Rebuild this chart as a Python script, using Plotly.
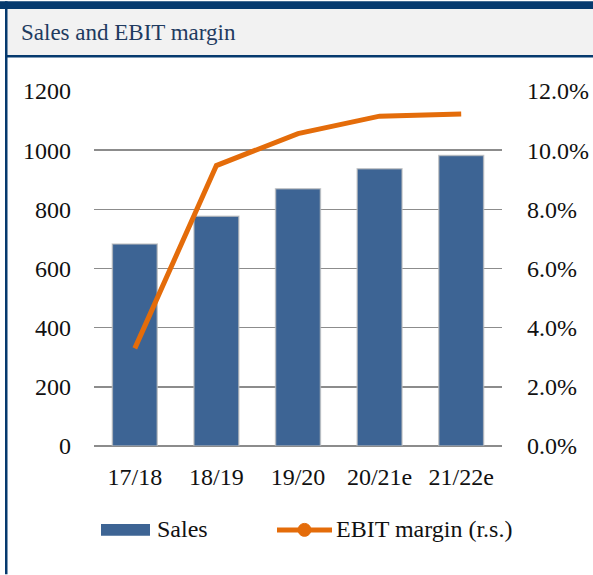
import plotly.graph_objects as go

categories = ["17/18", "18/19", "19/20", "20/21e", "21/22e"]
sales = [683, 777, 870, 937, 982]
ebit_margin = [0.033, 0.0948, 0.1056, 0.1115, 0.1122]
left_ticks = [0, 200, 400, 600, 800, 1000, 1200]
right_ticks = [0.0, 0.02, 0.04, 0.06, 0.08, 0.10, 0.12]
title_text = "Sales and EBIT margin"
series_names = ["Sales", "EBIT margin (r.s.)"]

W, H = 593, 575
L, R, T, B = 94, 502, 91, 446.5
FONT = "Liberation Serif, Times New Roman, serif"
NAVY = "#063a6e"
BAR = "#3d6494"
ORANGE = "#e46c0a"
TXT = "#111111"

def px(x):
    return (x - L) / (R - L)

def py(y):
    return (B - y) / (B - T)

fig = go.Figure()
fig.add_trace(go.Bar(
    x=categories, y=sales, name=series_names[0],
    marker=dict(color=BAR, line=dict(color="rgba(190,190,190,0.7)", width=1.5)),
    yaxis="y", showlegend=False,
))
fig.add_trace(go.Scatter(
    x=categories, y=ebit_margin, name=series_names[1], mode="lines",
    line=dict(color=ORANGE, width=5), yaxis="y2", showlegend=False,
))

shapes = []
shapes.append(dict(type="rect", xref="paper", yref="paper", x0=px(7), x1=px(W), y0=py(55), y1=py(9),
                   fillcolor="#f2f2f2", line=dict(width=0), layer="below"))
shapes.append(dict(type="rect", xref="paper", yref="paper", x0=px(0), x1=px(W), y0=py(9), y1=py(1),
                   fillcolor=NAVY, line=dict(width=0)))
shapes.append(dict(type="rect", xref="paper", yref="paper", x0=px(5), x1=px(W), y0=py(57.5), y1=py(55),
                   fillcolor=NAVY, line=dict(width=0)))
shapes.append(dict(type="rect", xref="paper", yref="paper", x0=px(5), x1=px(7.5), y0=py(H), y1=py(1),
                   fillcolor=NAVY, line=dict(width=0)))
# legend symbols
shapes.append(dict(type="rect", xref="paper", yref="paper", x0=px(101), x1=px(150), y0=py(536.5), y1=py(524.5),
                   fillcolor=BAR, line=dict(width=0)))
shapes.append(dict(type="line", xref="paper", yref="paper", x0=px(277), x1=px(332), y0=py(530.5), y1=py(530.5),
                   line=dict(color=ORANGE, width=5)))
shapes.append(dict(type="circle", xref="paper", yref="paper", x0=px(298), x1=px(311), y0=py(537), y1=py(524),
                   fillcolor=ORANGE, line=dict(color=ORANGE, width=1)))

annotations = [
    dict(text=title_text, xref="paper", yref="paper", x=px(19), y=py(32), xanchor="left", yanchor="middle",
         showarrow=False, font=dict(family=FONT, size=23, color="#1f3b60")),
    dict(text=series_names[0], xref="paper", yref="paper", x=px(155), y=py(530), xanchor="left", yanchor="middle",
         showarrow=False, font=dict(family=FONT, size=24, color=TXT)),
    dict(text=series_names[1], xref="paper", yref="paper", x=px(334), y=py(530), xanchor="left", yanchor="middle",
         showarrow=False, font=dict(family=FONT, size=24, color=TXT)),
]

fig.update_layout(
    width=W, height=H,
    margin=dict(l=L, r=W - R, t=T, b=H - B, autoexpand=False),
    paper_bgcolor="white", plot_bgcolor="white",
    bargap=0.45,
    showlegend=False,
    hovermode=False,
    font=dict(family=FONT, size=24, color=TXT),
    xaxis=dict(showgrid=False, showline=False, ticks="", ticklabelstandoff=14, automargin=False,
               tickfont=dict(family=FONT, size=24, color=TXT)),
    yaxis=dict(range=[0, 1200], tickvals=left_ticks, showgrid=True, gridcolor="#8c8c8c", gridwidth=1.5,
               zeroline=True, zerolinecolor="#8c8c8c", zerolinewidth=1.5, showline=False, ticks="",
               automargin=False,
               ticklabelstandoff=22, tickfont=dict(family=FONT, size=24, color=TXT)),
    yaxis2=dict(range=[0, 0.12], tickvals=right_ticks, tickformat=".1%", overlaying="y", side="right",
                showgrid=False, zeroline=False, showline=False, ticks="", ticklabelstandoff=24,
                automargin=False,
                tickfont=dict(family=FONT, size=24, color=TXT)),
    shapes=shapes,
    annotations=annotations,
)

fig.write_html(
    "out.html",
    config={"displayModeBar": False, "staticPlot": True},
    post_script="document.body.style.margin='0';document.body.style.overflow='hidden';",
)
